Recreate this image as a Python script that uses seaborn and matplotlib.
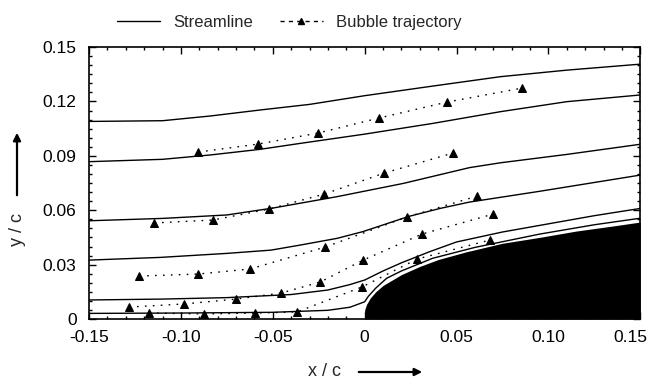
import numpy as np
import pandas as pd
import seaborn as sb
import matplotlib.pyplot as plt
import matplotlib.transforms as mtransforms
from matplotlib.lines import Line2D
from matplotlib.ticker import MultipleLocator

# streamlines (x/c, y/c)
s1_x = [-0.15, -0.11, -0.084, -0.057, -0.030, 0.0, 0.037, 0.074, 0.110, 0.15]
s1_y = [0.109, 0.1094, 0.112, 0.1153, 0.1184, 0.1232, 0.1285, 0.1337, 0.1373, 0.1406]
s2_x = [-0.15, -0.11, -0.084, -0.057, -0.035, 0.0, 0.037, 0.074, 0.110, 0.15]
s2_y = [0.0868, 0.0881, 0.0905, 0.0936, 0.0969, 0.1020, 0.1079, 0.1144, 0.1199, 0.1236]
s3_x = [-0.15, -0.11, -0.075, -0.05, -0.015, 0.021, 0.057, 0.074, 0.110, 0.15]
s3_y = [0.0542, 0.0555, 0.0574, 0.0612, 0.0675, 0.0748, 0.0835, 0.0862, 0.0908, 0.0964]
s4_x = [-0.15, -0.111, -0.075, -0.051, -0.035, -0.015, -0.001, 0.024, 0.041, 0.057, 0.0955, 0.15]
s4_y = [0.0325, 0.034, 0.0362, 0.038, 0.0408, 0.0445, 0.0482, 0.0566, 0.0610, 0.0645, 0.0705, 0.0794]
s5_x = [-0.15, -0.11, -0.075, -0.04, -0.02, -0.008, 0.0, 0.01, 0.02, 0.035, 0.05, 0.075, 0.1, 0.125, 0.15]
s5_y = [0.0105, 0.011, 0.0118, 0.0135, 0.016, 0.019, 0.0215, 0.0265, 0.031, 0.037, 0.0425, 0.048, 0.0525, 0.057, 0.061]
s6_x = [-0.15, -0.1, -0.05, -0.02, -0.008, 0.0, 0.002, 0.006, 0.012, 0.02, 0.037, 0.06, 0.095, 0.125, 0.15]
s6_y = [0.0031, 0.0033, 0.0037, 0.0048, 0.0065, 0.0095, 0.0125, 0.017, 0.0225, 0.0265, 0.0335, 0.0395, 0.0468, 0.0520, 0.0556]

# bubble trajectories
ta_x = [-0.0906, -0.0580, -0.0253, 0.0079, 0.0449, 0.0857]
ta_y = [0.0921, 0.0965, 0.1026, 0.1109, 0.1197, 0.1274]
tb_x = [-0.1146, -0.0825, -0.0520, -0.0220, 0.0106, 0.0482]
tb_y = [0.0530, 0.0546, 0.0607, 0.0689, 0.0805, 0.0916]
tc_x = [-0.1227, -0.0906, -0.0623, -0.0215, 0.0231, 0.0612]
tc_y = [0.0237, 0.0248, 0.0276, 0.0397, 0.0563, 0.0678]
td_x = [-0.1282, -0.0982, -0.0700, -0.0455, -0.0242, -0.0008, 0.0313, 0.0700]
td_y = [0.0066, 0.0083, 0.0110, 0.0143, 0.0204, 0.0325, 0.0469, 0.0579]
te_x = [-0.1173, -0.0873, -0.0596, -0.0368, -0.0014, 0.0286, 0.0683]
te_y = [0.0033, 0.0028, 0.0033, 0.0039, 0.0177, 0.0331, 0.0436]

# leading edge of the body
body_x = [0, 0, 0.001, 0.003, 0.006, 0.010, 0.015, 0.020, 0.030, 0.040, 0.055, 0.075, 0.095, 0.115, 0.135, 0.15]
body_y = [0, 0.005, 0.008, 0.0115, 0.015, 0.0185, 0.0215, 0.0245, 0.0290, 0.0328, 0.0370, 0.0418, 0.0450, 0.0485, 0.0513, 0.0535]

x_ticks = [-0.15, -0.10, -0.05, 0, 0.05, 0.10, 0.15]
x_tick_labels = ['-0.15', '-0.10', '-0.05', '0', '0.05', '0.10', '0.15']
y_ticks = [0, 0.03, 0.06, 0.09, 0.12, 0.15]
y_tick_labels = ['0', '0.03', '0.06', '0.09', '0.12', '0.15']

sb.set_style("ticks")
plt.rcParams['font.family'] = ['Liberation Sans', 'DejaVu Sans']
plt.rcParams['axes.unicode_minus'] = False

fig = plt.figure(figsize=(6.5, 3.8), dpi=100)
ax = fig.add_axes([0.137, 0.1605, 0.848, 0.7155])

streamlines = [(s1_x, s1_y), (s2_x, s2_y), (s3_x, s3_y),
               (s4_x, s4_y), (s5_x, s5_y), (s6_x, s6_y)]
for xs, ys in streamlines:
    df = pd.DataFrame({'x': xs, 'y': ys})
    sb.lineplot(data=df, x='x', y='y', ax=ax, color='black', lw=1.0,
                sort=False, estimator=None)

dotted = (0, (1.2, 4.5))
trajectories = [(ta_x, ta_y), (tb_x, tb_y), (tc_x, tc_y), (td_x, td_y), (te_x, te_y)]
for xs, ys in trajectories:
    df = pd.DataFrame({'x': xs, 'y': ys})
    sb.lineplot(data=df, x='x', y='y', ax=ax, color='black', lw=1.0,
                linestyle=dotted, marker='^', markersize=5.5,
                markeredgecolor='black', markerfacecolor='black',
                sort=False, estimator=None)

ax.fill_between(body_x, 0, body_y, color='black', lw=0, zorder=3)

ax.set_xlim(-0.15, 0.15)
ax.set_ylim(0, 0.15)
ax.set_xlabel('')
ax.set_ylabel('')
ax.set_xticks(x_ticks)
ax.set_xticklabels(x_tick_labels)
ax.set_yticks(y_ticks)
ax.set_yticklabels(y_tick_labels)
ax.xaxis.set_minor_locator(MultipleLocator(0.01))
ax.yaxis.set_minor_locator(MultipleLocator(0.005))
ax.tick_params(which='both', direction='in', top=True, right=True,
               colors='black', labelsize=12.5, width=1.0)
ax.tick_params(which='major', length=5)
ax.tick_params(which='minor', length=2.5)
ax.tick_params(axis='y', pad=9)
ax.tick_params(axis='x', pad=8)
for sp in ax.spines.values():
    sp.set_visible(True)
    sp.set_linewidth(1.2)
    sp.set_color('black')

# last x label sits inside the figure, right aligned
last = ax.get_xticklabels()[-1]
last.set_ha('right')
last.set_transform(last.get_transform() + mtransforms.ScaledTranslation(7 / 100, 0, fig.dpi_scale_trans))

# axis labels with arrows
fig.text(325 / 650, 1 - 372 / 380, 'x / c', ha='center', va='center', fontsize=13)
ax.annotate('', xy=(425 / 650, 1 - 372 / 380), xytext=(356 / 650, 1 - 372 / 380),
            xycoords='figure fraction', textcoords='figure fraction',
            arrowprops=dict(arrowstyle='-|>', color='black', lw=1.6, mutation_scale=11))
fig.text(17 / 650, 1 - 229 / 380, 'y / c', ha='center', va='center', fontsize=13, rotation=90)
ax.annotate('', xy=(17 / 650, 1 - 130 / 380), xytext=(17 / 650, 1 - 198 / 380),
            xycoords='figure fraction', textcoords='figure fraction',
            arrowprops=dict(arrowstyle='-|>', color='black', lw=1.6, mutation_scale=11))

handles = [Line2D([], [], color='black', lw=1.0),
           Line2D([], [], color='black', lw=1.0, linestyle=(0, (3, 3)),
                  marker='^', markersize=5, markevery=[1])]
handles[1].set_data([0, 0.5, 1], [0, 0, 0])
fig.legend(handles, ['Streamline', 'Bubble trajectory'], loc='center',
           bbox_to_anchor=(0.445, 0.94), ncol=2, frameon=False, fontsize=12,
           handlelength=2.6, handletextpad=0.8, columnspacing=1.6)

plt.savefig('out.png', dpi=100)
plt.close()
